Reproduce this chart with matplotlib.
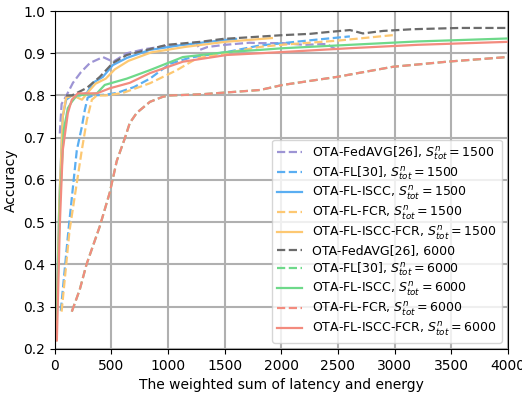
import numpy as np
import matplotlib
matplotlib.use('Agg')
import matplotlib.pyplot as plt

# S_tot = 1500
fedavg_1500_x = [44, 60, 97, 160, 230, 310, 425, 515, 635, 800, 1000, 1200, 1250, 1280, 1350, 1500, 1720, 1810, 2015, 2200, 2400, 2490]
fedavg_1500_y = [0.71, 0.78, 0.797, 0.83, 0.855, 0.877, 0.891, 0.88, 0.90, 0.91, 0.918, 0.922, 0.925, 0.908, 0.915, 0.92, 0.925, 0.924, 0.924, 0.92, 0.922, 0.908]

fl_1500_x = [53, 120, 194, 238, 265, 290, 336, 450, 547, 700, 840, 1015, 1200, 1520, 1800, 2015, 2300, 2605]
fl_1500_y = [0.29, 0.48, 0.67, 0.725, 0.766, 0.795, 0.80, 0.802, 0.806, 0.82, 0.84, 0.875, 0.89, 0.903, 0.918, 0.924, 0.932, 0.94]

iscc_1500_x = [10, 40, 70, 100, 150, 220, 283, 336, 424, 512, 636, 839, 1130, 1484, 1600]
iscc_1500_y = [0.22, 0.55, 0.75, 0.79, 0.80, 0.80, 0.806, 0.83, 0.844, 0.872, 0.889, 0.908, 0.92, 0.931, 0.934]

fcr_1500_x = [60, 130, 238, 283, 327, 371, 450, 600, 840, 1077, 1254, 1500, 1810, 2000, 2500, 2985]
fcr_1500_y = [0.288, 0.48, 0.67, 0.742, 0.79, 0.80, 0.80, 0.806, 0.829, 0.86, 0.888, 0.90, 0.915, 0.92, 0.93, 0.943]

isccfcr_1500_x = [12, 40, 70, 100, 160, 240, 300, 360, 450, 530, 650, 850, 1150, 1500, 1916]
isccfcr_1500_y = [0.22, 0.55, 0.75, 0.795, 0.80, 0.79, 0.81, 0.828, 0.84, 0.862, 0.882, 0.902, 0.915, 0.927, 0.936]

# S_tot = 6000
fedavg_6000_x = [100, 150, 283, 397, 512, 636, 812, 989, 1280, 1484, 1722, 2013, 2252, 2400, 2605, 2720, 2900, 3160, 3576, 3990]
fedavg_6000_y = [0.80, 0.80, 0.818, 0.844, 0.877, 0.896, 0.908, 0.92, 0.927, 0.934, 0.938, 0.943, 0.946, 0.95, 0.955, 0.947, 0.953, 0.957, 0.96, 0.96]

fl_6000_x = [150, 220, 280, 397, 485, 547, 620, 662, 724, 840, 954, 1015, 1300, 1660, 1810, 2013, 2490, 2985, 3461, 3990]
fl_6000_y = [0.288, 0.34, 0.40, 0.49, 0.57, 0.645, 0.70, 0.735, 0.759, 0.785, 0.797, 0.80, 0.803, 0.81, 0.813, 0.825, 0.844, 0.868, 0.88, 0.891]

iscc_6000_x = [18, 45, 80, 115, 150, 194, 371, 441, 636, 839, 1130, 1520, 1810, 2015, 2605, 3200, 3990]
iscc_6000_y = [0.27, 0.55, 0.72, 0.77, 0.785, 0.80, 0.805, 0.825, 0.84, 0.86, 0.891, 0.903, 0.908, 0.912, 0.92, 0.928, 0.935]

fcr_6000_x = fl_6000_x
fcr_6000_y = fl_6000_y

isccfcr_6000_x = [18, 45, 70, 115, 150, 203, 371, 485, 662, 840, 1130, 1520, 1810, 2015, 2605, 3200, 3990]
isccfcr_6000_y = [0.22, 0.50, 0.67, 0.758, 0.79, 0.805, 0.805, 0.817, 0.83, 0.853, 0.88, 0.896, 0.90, 0.903, 0.912, 0.92, 0.927]

purple = '#9d94d4'
blue = '#5aaef2'
orange = '#fdc872'
gray = '#6b6b6b'
green = '#6ed98a'
red = '#f38b7e'

fig, ax = plt.subplots(figsize=(5.22, 3.95), dpi=100)
lw = 1.6
ax.plot(fedavg_1500_x, fedavg_1500_y, '--', color=purple, lw=lw, label=r'OTA-FedAVG[26], $S^n_{tot}=1500$')
ax.plot(fl_1500_x, fl_1500_y, '--', color=blue, lw=lw, label=r'OTA-FL[30], $S^n_{tot}=1500$')
ax.plot(iscc_1500_x, iscc_1500_y, '-', color=blue, lw=lw, label=r'OTA-FL-ISCC, $S^n_{tot}=1500$')
ax.plot(fcr_1500_x, fcr_1500_y, '--', color=orange, lw=lw, label=r'OTA-FL-FCR, $S^n_{tot}=1500$')
ax.plot(isccfcr_1500_x, isccfcr_1500_y, '-', color=orange, lw=lw, label=r'OTA-FL-ISCC-FCR, $S^n_{tot}=1500$')
ax.plot(fedavg_6000_x, fedavg_6000_y, '--', color=gray, lw=lw, label='OTA-FedAVG[26], 6000')
ax.plot(fl_6000_x, fl_6000_y, '--', color=green, lw=lw, label=r'OTA-FL[30], $S^n_{tot}=6000$')
ax.plot(iscc_6000_x, iscc_6000_y, '-', color=green, lw=lw, label=r'OTA-FL-ISCC, $S^n_{tot}=6000$')
ax.plot(fcr_6000_x, fcr_6000_y, '--', color=red, lw=lw, label=r'OTA-FL-FCR, $S^n_{tot}=6000$')
ax.plot(isccfcr_6000_x, isccfcr_6000_y, '-', color=red, lw=lw, label=r'OTA-FL-ISCC-FCR, $S^n_{tot}=6000$')

ax.set_xlim(0, 4000)
ax.set_ylim(0.2, 1.0)
ax.set_xticks(np.arange(0, 4001, 500))
ax.set_yticks(np.arange(0.2, 1.01, 0.1))
ax.grid(True, color='#b0b0b0', lw=1.5)
ax.set_xlabel('The weighted sum of latency and energy')
ax.set_ylabel('Accuracy')
ax.legend(loc='lower right', fontsize=9, handlelength=2.0, labelspacing=0.2, borderpad=0.4)

plt.subplots_adjust(left=0.105, right=0.973, top=0.972, bottom=0.117)
plt.savefig('out.png')
